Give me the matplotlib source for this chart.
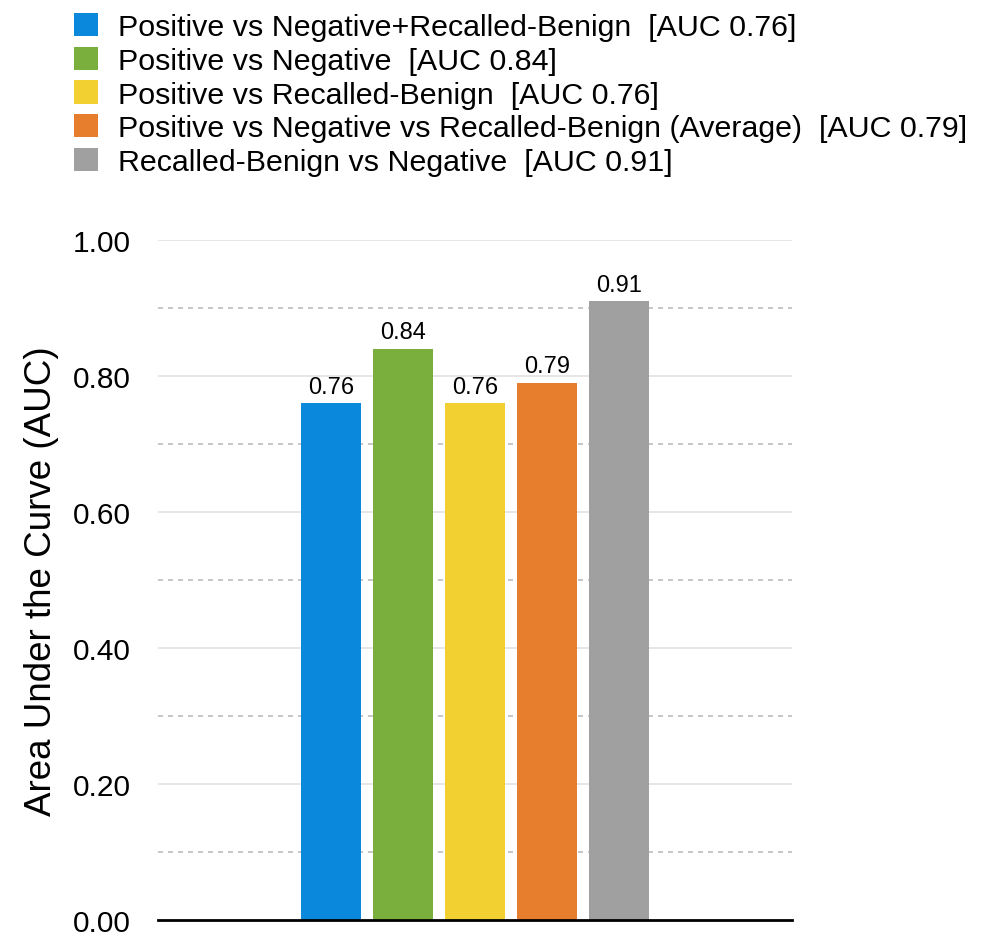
import matplotlib.pyplot as plt
from matplotlib.patches import Patch

plt.rcParams['font.family'] = ['Liberation Sans', 'DejaVu Sans']

# AUC 结果
labels = ['Positive vs Negative+Recalled-Benign',
          'Positive vs Negative',
          'Positive vs Recalled-Benign',
          'Positive vs Negative vs Recalled-Benign (Average)',
          'Recalled-Benign vs Negative']
auc = [0.76, 0.84, 0.76, 0.79, 0.91]
colors = ['#0A88DC', '#7BAF3D', '#F2D031', '#E67E2E', '#A0A0A0']
yticks = [0.0, 0.2, 0.4, 0.6, 0.8, 1.0]
minor_ticks = [0.1, 0.3, 0.5, 0.7, 0.9]

fig = plt.figure(figsize=(9.83, 9.37), dpi=100)
ax = fig.add_axes([0.1607, 0.017, 0.645, 0.7258])

# 网格线：实线为主刻度，虚线为次刻度
for y in yticks[1:]:
    ax.axhline(y, color='#E2E2E2', lw=1.2, zorder=0)
for y in minor_ticks:
    ax.axhline(y, color='#BDBDBD', lw=1.2, ls=(0, (3, 3)), zorder=0)

x = range(len(auc))
bars = ax.bar(x, auc, width=0.833, color=colors, zorder=2)
for b, v in zip(bars, auc):
    ax.text(b.get_x() + b.get_width() / 2, v + 0.008, f'{v:.2f}',
            ha='center', va='bottom', fontsize=17)

ax.set_xlim(-2.4, 6.4)
ax.set_ylim(0, 1.0)
ax.set_yticks(yticks)
ax.set_yticklabels([f'{t:.2f}' for t in yticks], fontsize=21.5)
ax.set_xticks([])
ax.tick_params(axis='y', length=0, pad=19.5)
for s in ['left', 'right', 'top']:
    ax.spines[s].set_visible(False)
ax.spines['bottom'].set_linewidth(2)
ax.spines['bottom'].set_color('black')
ax.set_ylabel('Area Under the Curve (AUC)', fontsize=26.5, labelpad=10)

handles = [Patch(facecolor=c) for c in colors]
texts = [f'{l}  [AUC {v:.2f}]' for l, v in zip(labels, auc)]
fig.legend(handles, texts, loc='upper left', bbox_to_anchor=(0.075, 0.985),
           frameon=False, fontsize=21.9, handlelength=0.8, handleheight=0.8,
           handletextpad=0.65, labelspacing=0.18, borderpad=0, borderaxespad=0)

fig.savefig('out.png', dpi=100)
